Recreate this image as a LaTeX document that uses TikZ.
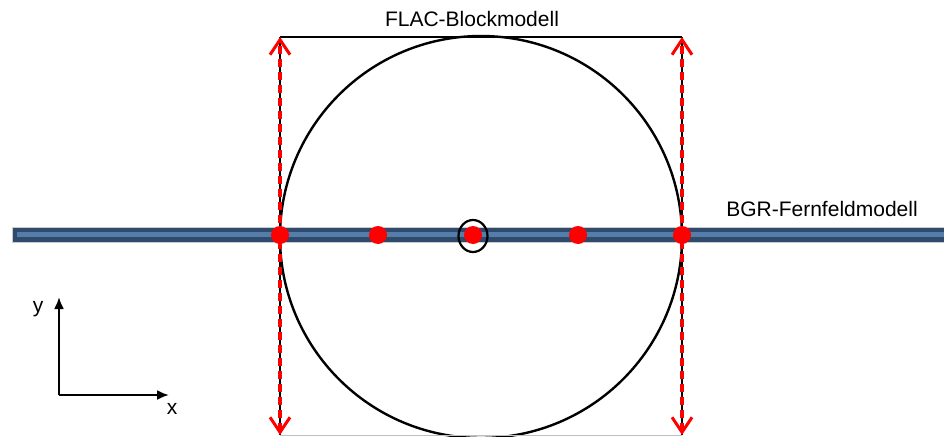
\documentclass[tikz,border=0pt]{standalone}
\usepackage{fontspec}
\setmainfont{Liberation Sans}
\usetikzlibrary{arrows.meta,shapes.geometric}
\definecolor{banddark}{HTML}{2E4A6C}
\definecolor{bandlight}{HTML}{5C86B2}
\begin{document}
\begin{tikzpicture}[x=1pt,y=-1pt,
  redarrow/.style={red,line width=3.4pt,dash pattern=on 8pt off 5pt,{Straight Barb[length=15pt,width=20pt,line width=3pt]}-{Straight Barb[length=15pt,width=20pt,line width=3pt]}},
  blackline/.style={black,line width=2.6pt},
  dot/.style={circle,fill=red,inner sep=0pt,minimum width=17pt,minimum height=18pt},
  axis/.style={black,line width=2.2pt,-{Latex[length=12pt,width=10pt]}},
  lbl/.style={inner sep=0pt,font=\fontsize{21}{24}\selectfont}
]
\useasboundingbox (0,0) rectangle (944,436);
% band
\fill[banddark,draw=gray!40,line width=0.8pt] (12,227.5) rectangle (946,242);
\fill[bandlight!85!banddark] (17,232) rectangle (946,237);
% circle and square
\node[circle,draw,line width=2.4pt,minimum size=402pt,inner sep=0pt] (circ) at (481,237) {};
\coordinate (tl) at (280,37);
\coordinate (tr) at (682,37);
\coordinate (bl) at (280,435);
\coordinate (br) at (682,435);
\draw[black,line width=2.4pt] (tl) -- (tr);
\draw[gray!50,line width=1pt] (bl) -- (br);
\draw[blackline] (tl) -- (bl);
\draw[blackline] (tr) -- (br);
\draw[redarrow] (bl) -- (tl);
\draw[redarrow] (br) -- (tr);
% dots
\node[dot] (d1) at (280,235) {};
\node[dot] (d2) at (378,235) {};
\node[dot] (d3) at (473,235) {};
\node[dot] (d4) at (578,235) {};
\node[dot] (d5) at (682,235) {};
\node[ellipse,draw,line width=2.2pt,minimum width=29pt,minimum height=32pt,inner sep=0pt] (ring) at (473,236) {};
% labels
\node[lbl] (flac) at (472,19) {FLAC-Blockmodell};
\node[lbl] (bgr) at (822,209) {BGR-Fernfeldmodell};
% axes
\coordinate (o) at (59,395);
\coordinate (ye) at (59,297);
\coordinate (xe) at (169,395);
\draw[axis] (o) -- (ye);
\draw[axis] (o) -- (xe);
\node[lbl] (ylab) at (38,309) {y};
\node[lbl] (xlab) at (172,409) {x};
\end{tikzpicture}
\end{document}
